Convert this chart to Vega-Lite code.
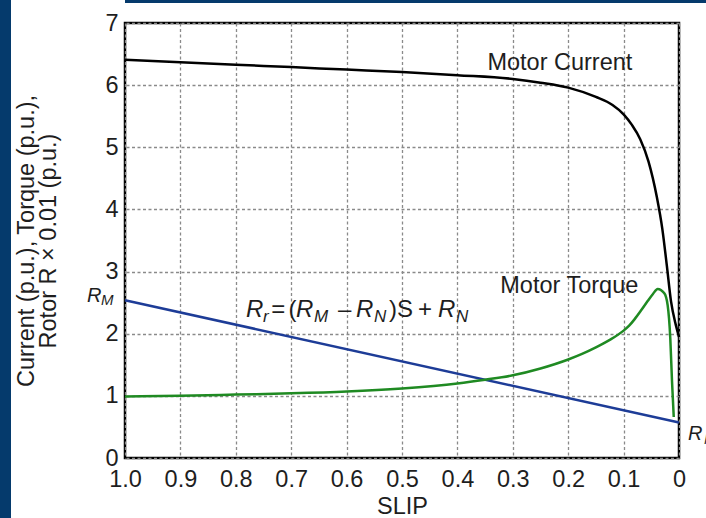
{
  "$schema": "https://vega.github.io/schema/vega-lite/v6.json",
  "background": "white",
  "padding": 0,
  "spacing": 2,
  "config": {
    "font": "Liberation Sans",
    "view": {"stroke": null},
    "text": {"font": "Liberation Sans", "color": "#1e1e1e"}
  },
  "datasets": {
    "lines": [
      {"series": "Rotor R", "s": 1.0, "v": 2.54},
      {"series": "Rotor R", "s": 0.0, "v": 0.57},
      {"series": "Motor Torque", "s": 1.0, "v": 0.99},
      {"series": "Motor Torque", "s": 0.9, "v": 1.0},
      {"series": "Motor Torque", "s": 0.8, "v": 1.02},
      {"series": "Motor Torque", "s": 0.7, "v": 1.04},
      {"series": "Motor Torque", "s": 0.6, "v": 1.07},
      {"series": "Motor Torque", "s": 0.5, "v": 1.12},
      {"series": "Motor Torque", "s": 0.4, "v": 1.2},
      {"series": "Motor Torque", "s": 0.35, "v": 1.26},
      {"series": "Motor Torque", "s": 0.3, "v": 1.33},
      {"series": "Motor Torque", "s": 0.25, "v": 1.44},
      {"series": "Motor Torque", "s": 0.2, "v": 1.585},
      {"series": "Motor Torque", "s": 0.175, "v": 1.675},
      {"series": "Motor Torque", "s": 0.15, "v": 1.78},
      {"series": "Motor Torque", "s": 0.125, "v": 1.9},
      {"series": "Motor Torque", "s": 0.1, "v": 2.05},
      {"series": "Motor Torque", "s": 0.09, "v": 2.13},
      {"series": "Motor Torque", "s": 0.08, "v": 2.235},
      {"series": "Motor Torque", "s": 0.068, "v": 2.38},
      {"series": "Motor Torque", "s": 0.0566, "v": 2.525},
      {"series": "Motor Torque", "s": 0.047, "v": 2.64},
      {"series": "Motor Torque", "s": 0.0385, "v": 2.72},
      {"series": "Motor Torque", "s": 0.0265, "v": 2.65},
      {"series": "Motor Torque", "s": 0.0205, "v": 2.46},
      {"series": "Motor Torque", "s": 0.0157, "v": 1.92},
      {"series": "Motor Torque", "s": 0.0126, "v": 1.23},
      {"series": "Motor Torque", "s": 0.0095, "v": 0.66},
      {"series": "Motor Current", "s": 1.0, "v": 6.41},
      {"series": "Motor Current", "s": 0.9, "v": 6.37},
      {"series": "Motor Current", "s": 0.8, "v": 6.33},
      {"series": "Motor Current", "s": 0.7, "v": 6.29},
      {"series": "Motor Current", "s": 0.6, "v": 6.25},
      {"series": "Motor Current", "s": 0.5, "v": 6.21},
      {"series": "Motor Current", "s": 0.4, "v": 6.16},
      {"series": "Motor Current", "s": 0.3, "v": 6.1},
      {"series": "Motor Current", "s": 0.25, "v": 6.04},
      {"series": "Motor Current", "s": 0.2, "v": 5.96},
      {"series": "Motor Current", "s": 0.15, "v": 5.81},
      {"series": "Motor Current", "s": 0.12, "v": 5.68},
      {"series": "Motor Current", "s": 0.1, "v": 5.53},
      {"series": "Motor Current", "s": 0.085, "v": 5.36},
      {"series": "Motor Current", "s": 0.07, "v": 5.13},
      {"series": "Motor Current", "s": 0.055, "v": 4.77},
      {"series": "Motor Current", "s": 0.04, "v": 4.2},
      {"series": "Motor Current", "s": 0.03, "v": 3.68},
      {"series": "Motor Current", "s": 0.022, "v": 3.1},
      {"series": "Motor Current", "s": 0.0144, "v": 2.52},
      {"series": "Motor Current", "s": 0.006, "v": 2.15},
      {"series": "Motor Current", "s": 0.0, "v": 1.95}
    ],
    "curveLabels": [
      {"s": 0.215, "v": 6.25, "text": "Motor Current"},
      {"s": 0.198, "v": 2.65, "text": "Motor Torque"}
    ],
    "formulaR": [
      {"s": 0.7816, "v": 2.274, "text": "R"},
      {"s": 0.6913, "v": 2.274, "text": "R"},
      {"s": 0.583, "v": 2.274, "text": "R"},
      {"s": 0.435, "v": 2.274, "text": "R"}
    ],
    "formulaSub": [
      {"s": 0.7509, "v": 2.19, "text": "r"},
      {"s": 0.6588, "v": 2.19, "text": "M"},
      {"s": 0.5505, "v": 2.19, "text": "N"},
      {"s": 0.4025, "v": 2.19, "text": "N"}
    ],
    "formulaOps": [
      {"s": 0.736, "v": 2.274, "text": "="},
      {"s": 0.705, "v": 2.274, "text": "("},
      {"s": 0.6155, "v": 2.274, "text": "–"},
      {"s": 0.5235, "v": 2.274, "text": ")S"},
      {"s": 0.4711, "v": 2.274, "text": "+"}
    ],
    "edgeR": [
      {"s": 1.0686, "v": 2.516, "text": "R"},
      {"s": -0.0162, "v": 0.285, "text": "R"}
    ],
    "edgeSub": [
      {"s": 1.0433, "v": 2.46, "text": "M"},
      {"s": -0.045, "v": 0.226, "text": "N"}
    ]
  },
  "hconcat": [
    {
      "width": 11,
      "height": 518,
      "view": {"fill": "#053a6c", "stroke": null},
      "data": {"values": []},
      "mark": "point"
    },
    {
      "concat": [
        {
          "width": 700,
          "height": 3,
          "view": {"fill": "#053a6c", "stroke": null},
          "data": {"values": []},
          "mark": "point"
        },
        {
          "width": 554,
          "height": 435,
          "view": {"fill": "white", "stroke": "black", "strokeWidth": 2.5},
          "layer": [
            {
              "data": {"name": "lines"},
              "mark": {"type": "line", "strokeWidth": 2.5, "interpolate": "monotone"},
              "encoding": {
                "x": {
                  "field": "s",
                  "type": "quantitative",
                  "scale": {"domain": [0, 1], "reverse": true, "nice": false, "zero": false},
                  "axis": {
                    "title": "SLIP",
                    "values": [0, 0.1, 0.2, 0.3, 0.4, 0.5, 0.6, 0.7, 0.8, 0.9, 1],
                    "labelExpr": "datum.value == 1 ? '1.0' : datum.value == 0 ? '0' : format(datum.value, '.1f')",
                    "domain": false,
                    "ticks": false,
                    "grid": true,
                    "gridColor": "#8a8a8a",
                    "gridDash": [3, 2.5],
                    "gridWidth": 1.3,
                    "labelFont": "Liberation Sans",
                    "labelFontSize": 23.5,
                    "labelColor": "#1e1e1e",
                    "labelPadding": 9,
                    "labelFlush": false,
                    "labelOverlap": false,
                    "titleFont": "Liberation Sans",
                    "titleFontSize": 23.5,
                    "titleFontWeight": "normal",
                    "titleColor": "#1e1e1e",
                    "titlePadding": 4
                  }
                },
                "y": {
                  "field": "v",
                  "type": "quantitative",
                  "scale": {"domain": [0, 7], "nice": false},
                  "axis": {
                    "title": ["Current (p.u.), Torque (p.u.),", "Rotor R × 0.01 (p.u.)"],
                    "values": [0, 1, 2, 3, 4, 5, 6, 7],
                    "format": "d",
                    "domain": false,
                    "ticks": false,
                    "grid": true,
                    "gridColor": "#8a8a8a",
                    "gridDash": [3, 2.5],
                    "gridWidth": 1.3,
                    "labelFont": "Liberation Sans",
                    "labelFontSize": 23.5,
                    "labelColor": "#1e1e1e",
                    "labelPadding": 7,
                    "labelFlush": false,
                    "labelOverlap": false,
                    "titleFont": "Liberation Sans",
                    "titleFontSize": 23.5,
                    "titleFontWeight": "normal",
                    "titleColor": "#1e1e1e",
                    "titleLineHeight": 22,
                    "titlePadding": 44
                  }
                },
                "color": {
                  "field": "series",
                  "type": "nominal",
                  "scale": {"domain": ["Rotor R", "Motor Torque", "Motor Current"], "range": ["#1d3c97", "#1f8a22", "#000000"]},
                  "legend": null
                },
                "order": {"field": "s", "type": "quantitative", "sort": "descending"}
              }
            },
            {
              "data": {"name": "curveLabels"},
              "mark": {"type": "text", "fontSize": 23.5, "align": "center", "baseline": "alphabetic", "color": "#1e1e1e"},
              "encoding": {
                "x": {"field": "s", "type": "quantitative"},
                "y": {"field": "v", "type": "quantitative"},
                "text": {"field": "text"}
              }
            },
            {
              "data": {"name": "formulaR"},
              "mark": {"type": "text", "fontSize": 24, "fontStyle": "italic", "align": "left", "baseline": "alphabetic", "color": "#1e1e1e"},
              "encoding": {
                "x": {"field": "s", "type": "quantitative"},
                "y": {"field": "v", "type": "quantitative"},
                "text": {"field": "text"}
              }
            },
            {
              "data": {"name": "formulaSub"},
              "mark": {"type": "text", "fontSize": 17, "fontStyle": "italic", "align": "left", "baseline": "alphabetic", "color": "#1e1e1e"},
              "encoding": {
                "x": {"field": "s", "type": "quantitative"},
                "y": {"field": "v", "type": "quantitative"},
                "text": {"field": "text"}
              }
            },
            {
              "data": {"name": "formulaOps"},
              "mark": {"type": "text", "fontSize": 24, "align": "left", "baseline": "alphabetic", "color": "#1e1e1e"},
              "encoding": {
                "x": {"field": "s", "type": "quantitative"},
                "y": {"field": "v", "type": "quantitative"},
                "text": {"field": "text"}
              }
            },
            {
              "data": {"name": "edgeR"},
              "mark": {"type": "text", "fontSize": 20, "fontStyle": "italic", "align": "left", "baseline": "alphabetic", "color": "#1e1e1e"},
              "encoding": {
                "x": {"field": "s", "type": "quantitative"},
                "y": {"field": "v", "type": "quantitative"},
                "text": {"field": "text"}
              }
            },
            {
              "data": {"name": "edgeSub"},
              "mark": {"type": "text", "fontSize": 15, "fontStyle": "italic", "align": "left", "baseline": "alphabetic", "color": "#1e1e1e"},
              "encoding": {
                "x": {"field": "s", "type": "quantitative"},
                "y": {"field": "v", "type": "quantitative"},
                "text": {"field": "text"}
              }
            }
          ]
        }
      ],
      "columns": 1,
      "align": "none",
      "spacing": 6
    }
  ]
}
